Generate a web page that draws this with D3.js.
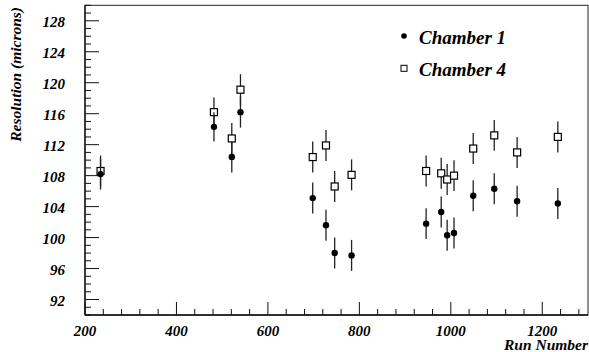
<!DOCTYPE html>
<html>
<head>
<meta charset="utf-8">
<script src="https://cdn.jsdelivr.net/npm/d3@7"></script>
<style>
  body { margin: 0; background: #fff; }
  svg text { font-family: "Liberation Serif", "Times New Roman", serif; font-weight: bold; font-style: italic; }
</style>
</head>
<body>
<script>
// run numbers and resolution per chamber
var runs = [234, 482, 521, 540, 698, 727, 746, 783, 946, 979, 992, 1007, 1049, 1095, 1145, 1234];
var chamber1 = [108.2, 114.3, 110.4, 116.2, 105.1, 101.6, 98.0, 97.7, 101.8, 103.3, 100.3, 100.6, 105.4, 106.3, 104.7, 104.4];
var chamber1Err = [2.0, 1.9, 2.0, 2.0, 2.0, 2.0, 2.0, 2.0, 2.0, 2.0, 2.0, 2.0, 2.0, 2.0, 2.0, 2.0];
var chamber4 = [108.6, 116.2, 112.8, 119.1, 110.4, 111.9, 106.6, 108.1, 108.6, 108.3, 107.5, 108.0, 111.5, 113.2, 111.0, 113.0];
var chamber4Err = [2.0, 1.9, 2.0, 2.0, 2.0, 2.0, 2.0, 2.0, 2.0, 2.0, 2.0, 2.0, 2.0, 2.0, 2.0, 2.0];
var xTicks = [200, 400, 600, 800, 1000, 1200];
var yTicks = [92, 96, 100, 104, 108, 112, 116, 120, 124, 128];
var legendNames = ["Chamber 1", "Chamber 4"];

var width = 589, height = 352;
var padL = 85, padR = 588, padT = 5.3, padB = 315;

var svg = d3.select("body").append("svg")
    .attr("width", width)
    .attr("height", height);

var x = d3.scaleLinear().domain([200, 1300]).range([padL, padR]);
var y = d3.scaleLinear().domain([90, 130]).range([padB, padT]);

// frame
svg.append("rect")
    .attr("x", padL).attr("y", padT)
    .attr("width", padR - padL).attr("height", padB - padT)
    .attr("fill", "none").attr("stroke", "#222").attr("stroke-width", 1);

// minor + major ticks on the left
var yMinor = d3.range(90, 130.01, 1);
svg.append("g").selectAll("line").data(yMinor).join("line")
    .attr("x1", padL).attr("x2", function(d) { return padL + (d % 4 === 0 ? 14 : 6); })
    .attr("y1", function(d) { return y(d); }).attr("y2", function(d) { return y(d); })
    .attr("stroke", "#111").attr("stroke-width", 1);

var xMinor = d3.range(200, 1300.01, 40);
svg.append("g").selectAll("line").data(xMinor).join("line")
    .attr("x1", function(d) { return x(d); }).attr("x2", function(d) { return x(d); })
    .attr("y1", padB).attr("y2", function(d) { return padB - (d % 200 === 0 ? 13 : 6); })
    .attr("stroke", "#111").attr("stroke-width", 1);

svg.append("line")
    .attr("x1", padL).attr("x2", padL).attr("y1", padT).attr("y2", padB)
    .attr("stroke", "#111").attr("stroke-width", 1.3);
svg.append("line")
    .attr("x1", padL).attr("x2", padR).attr("y1", padB).attr("y2", padB)
    .attr("stroke", "#111").attr("stroke-width", 1.3);

// tick labels
svg.append("g").selectAll("text").data(yTicks).join("text")
    .attr("x", 65).attr("y", function(d) { return y(d) + 6.5; })
    .attr("text-anchor", "end").attr("font-size", 15)
    .text(function(d) { return d; });

svg.append("g").selectAll("text").data(xTicks).join("text")
    .attr("x", function(d) { return x(d); }).attr("y", 336)
    .attr("text-anchor", "middle").attr("font-size", 15)
    .text(function(d) { return d; });

// axis titles
svg.append("text")
    .attr("x", padR).attr("y", 350)
    .attr("text-anchor", "end").attr("font-size", 15.5)
    .text("Run Number");

svg.append("text")
    .attr("transform", "translate(21,7) rotate(-90)")
    .attr("text-anchor", "end").attr("font-size", 15.5)
    .text("Resolution (microns)");

// error bars + markers
function drawSeries(vals, errs, isSquare) {
  var g = svg.append("g");
  g.selectAll("line").data(vals).join("line")
      .attr("x1", function(d, i) { return x(runs[i]); })
      .attr("x2", function(d, i) { return x(runs[i]); })
      .attr("y1", function(d, i) { return y(d - errs[i]); })
      .attr("y2", function(d, i) { return y(d + errs[i]); })
      .attr("stroke", "#222").attr("stroke-width", 1.3);
  if (isSquare) {
    g.selectAll("rect").data(vals).join("rect")
        .attr("x", function(d, i) { return x(runs[i]) - 3.5; })
        .attr("y", function(d) { return y(d) - 3.5; })
        .attr("width", 7).attr("height", 7)
        .attr("fill", "#fff").attr("stroke", "#000").attr("stroke-width", 1.2);
  } else {
    g.selectAll("circle").data(vals).join("circle")
        .attr("cx", function(d, i) { return x(runs[i]); })
        .attr("cy", function(d) { return y(d); })
        .attr("r", 3.2).attr("fill", "#000");
  }
}
drawSeries(chamber4, chamber4Err, true);
drawSeries(chamber1, chamber1Err, false);

// legend
svg.append("circle").attr("cx", 404).attr("cy", 36).attr("r", 2.8).attr("fill", "#000");
svg.append("rect").attr("x", 401).attr("y", 65.3).attr("width", 6).attr("height", 6)
    .attr("fill", "#fff").attr("stroke", "#000").attr("stroke-width", 1);
svg.append("g").selectAll("text").data(legendNames).join("text")
    .attr("x", 419).attr("y", function(d, i) { return 44 + i * 32; })
    .attr("font-size", 19)
    .text(function(d) { return d; });
</script>
</body>
</html>
